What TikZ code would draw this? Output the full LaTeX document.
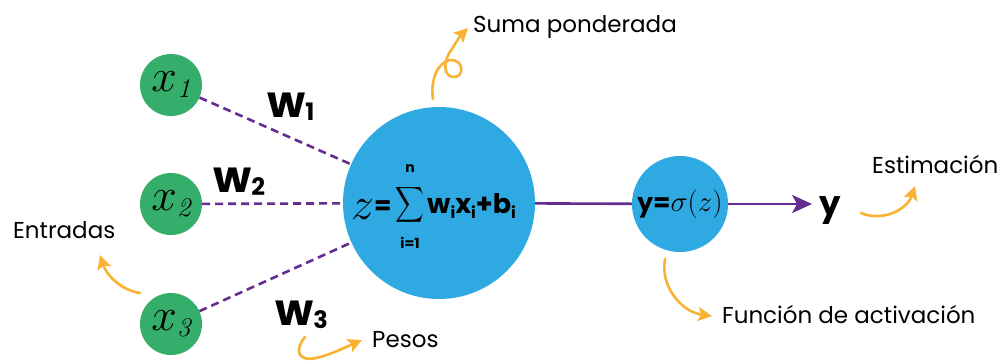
\RequirePackage{fix-cm}
\documentclass[tikz,border=0pt]{standalone}
\usepackage{amsmath}
\usepackage{graphicx}
\usepackage{fontspec}
\newfontfamily\pop{Poppins}
\usetikzlibrary{arrows.meta}

\definecolor{nodegreen}{HTML}{35AD6B}
\definecolor{nodeblue}{HTML}{2FA9E1}
\definecolor{linkpurple}{HTML}{662D91}
\definecolor{noteorange}{HTML}{F9B234}

% input variable x_k set in serif italic
\newcommand\inputvar[1]{{\fontsize{46}{46}\selectfont$x$}\raisebox{-6pt}{\fontsize{27}{27}\selectfont\itshape #1}}
% lowered index for the bold sans terms
\newcommand\lowidx[1]{\raisebox{-5pt}{\fontsize{16}{16}\selectfont #1}}
% weight label w_k
\newcommand\weightlabel[1]{{\pop\bfseries\fontsize{44}{44}\selectfont w\raisebox{-3pt}{\fontsize{24}{24}\selectfont #1}}}

\tikzset{
  input/.style={circle, fill=nodegreen, minimum size=62pt, inner sep=0pt},
  neuron/.style={circle, fill=nodeblue, inner sep=0pt},
  weight/.style={draw=linkpurple, line width=2.6pt, dash pattern=on 8pt off 5pt},
  flow/.style={draw=linkpurple, line width=2.6pt},
  note/.style={font={\pop\fontsize{23}{23}\selectfont}, anchor=base west, inner sep=0pt},
  wlab/.style={anchor=base west, inner sep=0pt},
  formula/.style={inner sep=0pt},
  limit/.style={inner sep=0pt, font={\pop\bfseries\fontsize{14}{14}\selectfont}},
  hint/.style={draw=noteorange, line width=2.6pt, line cap=round,
    -{Stealth[length=14pt,width=14pt,inset=3pt]}},
}

\begin{document}
\begin{tikzpicture}[x=1pt,y=-1pt]
  \fill[white] (0,0) rectangle (998,362);
  \useasboundingbox (0,0) rectangle (998,362);

  % inputs
  \node[input] (x1) at (171,85)  {\inputvar{1}};
  \node[input] (x2) at (171,204) {\inputvar{2}};
  \node[input] (x3) at (171,324) {\inputvar{3}};

  % weighted sum neuron
  \node[neuron, minimum size=192pt] (sum) at (439,203) {};
  % z = sum_{i=1}^{n} w_i x_i + b_i
  \node[formula, anchor=base west] (zeq) at (351,219)
    {{\fontsize{46}{46}\selectfont$z$}\raisebox{5pt}{\pop\bfseries\fontsize{25}{25}\selectfont=}};
  \node[formula] (sigma) at (410,205)
    {\scalebox{0.8}[1]{\fontsize{34}{34}\selectfont$\displaystyle\sum$}};
  \node[limit] (upper) at (410,169) {n};
  \node[limit] (lower) at (410,243) {i=1};
  \node[formula, anchor=base west] (terms) at (427,213)
    {\pop\bfseries\fontsize{27}{27}\selectfont w\lowidx{i}x\lowidx{i}+b\lowidx{i}};

  % activation
  \node[neuron, minimum size=96pt] (act) at (680,204) {%
    {\pop\bfseries\fontsize{25}{25}\selectfont y=}%
    {\fontsize{29}{29}\selectfont$\sigma(z)$}};

  % output
  \node[anchor=base, inner sep=0pt, font={\pop\bfseries\fontsize{34}{34}\selectfont}] (out) at (830,215) {y};

  % weight labels
  \node[wlab] (w1) at (267,117) {\weightlabel{1}};
  \node[wlab] (w2) at (213,192) {\weightlabel{2}};
  \node[wlab] (w3) at (275,325) {\weightlabel{3}};

  % captions
  \node[note] (lin)  at (13,238)  {Entradas};
  \node[note] (lsum) at (473,32)  {Suma ponderada};
  \node[note] (lw)   at (372,347) {Pesos};
  \node[note] (lest) at (872,173) {Estimación};
  \node[note] (lact) at (722,323) {Función de activación};

  % connections
  \draw[weight] (x1) -- (sum);
  \draw[weight] (x2) -- (sum);
  \draw[weight] (x3) -- (sum);
  \draw[flow] (sum) -- (act);
  \draw[flow, shorten >=7pt, -{Stealth[length=20pt,width=18pt,inset=5pt]}] (act) -- (out.west |- act);

  % pointer ends
  \coordinate (pin0) at (140,293);  \coordinate (pin1) at (100,255);
  \coordinate (psum0) at (433,99);  \coordinate (psum1) at (468,28);
  \coordinate (pw0) at (305,337);   \coordinate (pw1) at (362,340);
  \coordinate (pact0) at (665,259); \coordinate (pact1) at (712,316);
  \coordinate (pest0) at (861,213); \coordinate (pest1) at (915,186);

  % pointers to the captions
  \draw[hint] (pin0) .. controls (120,290) and (106,274) .. (pin1);
  \draw[hint] (psum0) .. controls (430,80) and (438,62) .. (450,60)
      .. controls (464,59) and (465,78) .. (453,77)
      .. controls (442,76) and (444,58) .. (452,49)
      .. controls (456,42) and (461,35) .. (psum1);
  \draw[hint] (pw0) .. controls (294,350) and (298,362) .. (316,358)
      .. controls (330,355) and (346,347) .. (pw1);
  \draw[hint] (pact0) .. controls (660,287) and (682,312) .. (pact1);
  \draw[hint] (pest0) .. controls (882,222) and (907,210) .. (pest1);
\end{tikzpicture}
\end{document}
